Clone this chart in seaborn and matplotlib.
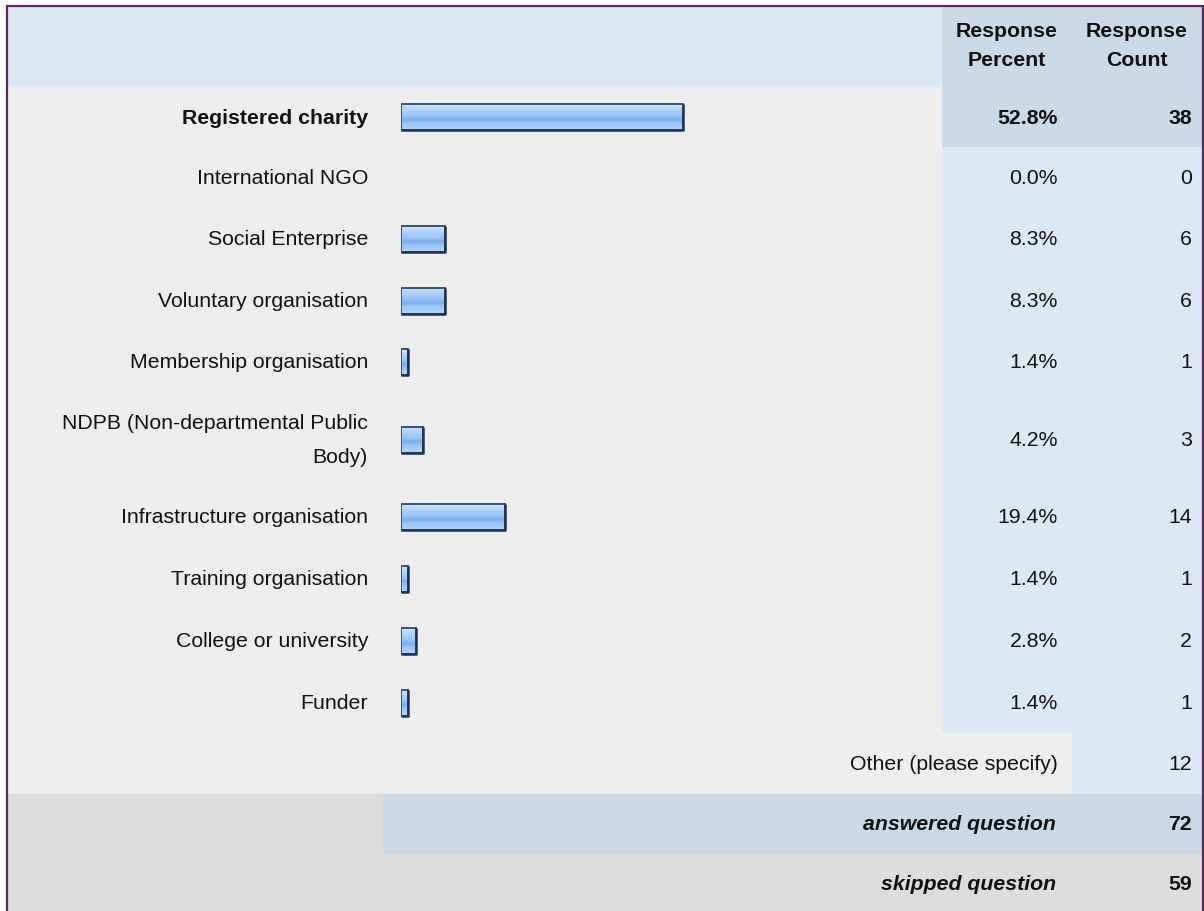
import numpy as np
import pandas as pd
import seaborn as sns
import matplotlib.pyplot as plt
from matplotlib.patches import Rectangle
from matplotlib.colors import to_rgb

categories = ["Registered charity", "International NGO", "Social Enterprise",
              "Voluntary organisation", "Membership organisation",
              "NDPB (Non-departmental Public\nBody)", "Infrastructure organisation",
              "Training organisation", "College or university", "Funder"]
percents = [52.8, 0.0, 8.3, 8.3, 1.4, 4.2, 19.4, 1.4, 2.8, 1.4]
counts = [38, 0, 6, 6, 1, 3, 14, 1, 2, 1]
other_label = "Other (please specify)"
other_count = 12
answered = 72
skipped = 59

# layout in pixels
W, H = 1204, 912
L, R = 8, 1202
C1, C2 = 942, 1072
header_top, header_h = 8, 80
row_h = [60, 61, 62, 61, 62, 93, 62, 62, 62, 61]
foot_h = 61

LIGHT = "#dde8f5"
DARK = "#cbd8e6"
GREY = "#ededed"
GREY2 = "#dcdcdc"
BORDER = "#5c2a52"

sns.set_theme(style="white")
plt.rcParams["font.family"] = ["Liberation Sans", "DejaVu Sans"]
plt.rcParams["text.color"] = "#111111"
FS = 15.3

fig = plt.figure(figsize=(W / 100, H / 100), dpi=100)
bg = fig.add_axes([0, 0, 1, 1])
bg.set_xlim(0, W)
bg.set_ylim(H, 0)
bg.axis("off")

def cell(x0, x1, y0, y1, color):
    bg.add_patch(Rectangle((x0, y0), x1 - x0, y1 - y0, facecolor=color, edgecolor="none", zorder=0))

# header
y = header_top
cell(L, C1, y, y + header_h, LIGHT)
cell(C1, R, y, y + header_h, DARK)
bg.text((C1 + C2) / 2, y + 23.5, "Response", ha="center", va="center", fontsize=FS, fontweight="bold")
bg.text((C1 + C2) / 2, y + 52, "Percent", ha="center", va="center", fontsize=FS, fontweight="bold")
bg.text((C2 + R) / 2, y + 23.5, "Response", ha="center", va="center", fontsize=FS, fontweight="bold")
bg.text((C2 + R) / 2, y + 52, "Count", ha="center", va="center", fontsize=FS, fontweight="bold")
y += header_h

centers = []
for i, (cat, p, c, h) in enumerate(zip(categories, percents, counts, row_h)):
    cell(L, C1, y, y + h, GREY)
    cell(C1, R, y, y + h, DARK if i == 0 else LIGHT)
    yc = y + h / 2
    centers.append(yc)
    wt = "bold" if i == 0 else "normal"
    bg.text(368, yc, cat, ha="right", va="center", fontsize=FS, fontweight=wt,
            multialignment="right", linespacing=1.95)
    bg.text(1058, yc, f"{p:.1f}%", ha="right", va="center", fontsize=FS, fontweight=wt)
    bg.text(1192, yc, str(c), ha="right", va="center", fontsize=FS, fontweight=wt)
    y += h

# other
cell(L, C2, y, y + foot_h, GREY)
cell(C2, R, y, y + foot_h, LIGHT)
bg.text(1058, y + foot_h / 2, other_label, ha="right", va="center", fontsize=FS)
bg.text(1192, y + foot_h / 2, str(other_count), ha="right", va="center", fontsize=FS)
y += foot_h

# answered / skipped
cell(L, 383, y, y + 60, GREY2)
cell(383, R, y, y + 60, DARK)
bg.text(1056, y + 30, "answered question", ha="right", va="center", fontsize=FS,
        fontweight="bold", fontstyle="italic")
bg.text(1192, y + 30, str(answered), ha="right", va="center", fontsize=FS, fontweight="bold")
y += 60
cell(L, R, y, H + 5, GREY2)
bg.text(1056, y + 30, "skipped question", ha="right", va="center", fontsize=FS,
        fontweight="bold", fontstyle="italic")
bg.text(1192, y + 30, str(skipped), ha="right", va="center", fontsize=FS, fontweight="bold")

# frame
bg.plot([L - 1, L - 1], [H + 5, header_top - 1], color=BORDER, lw=1.6, zorder=5)
bg.plot([L - 1, R + 0.5], [header_top - 1, header_top - 1], color=BORDER, lw=1.6, zorder=5)
bg.plot([R + 0.5, R + 0.5], [header_top - 1, H + 5], color=BORDER, lw=1.6, zorder=5)

# bars
bx = fig.add_axes([401 / W, 0, 534 / W, 1])
df = pd.DataFrame({"pct": percents, "y": centers})
diffs = np.diff(sorted(centers))
sns.barplot(data=df, x="pct", y="y", orient="h", native_scale=True,
            width=26 / diffs.min(), ax=bx, color="#9cc6f5",
            edgecolor="#3a5272", linewidth=1.4)
bx.set_xlim(0, 100)
bx.set_ylim(H, 0)
bx.axis("off")
bx.patch.set_alpha(0)

stops = [(0.0, "#d6e9fd"), (0.12, "#bcdaf9"), (0.45, "#99c4f4"), (0.6, "#79aeef"),
         (0.75, "#9cc6f5"), (1.0, "#b4d4f8")]
pos = np.linspace(0, 1, 64)
grad = np.stack([np.interp(pos, [s[0] for s in stops], [to_rgb(s[1])[k] for s in stops])
                 for k in range(3)], axis=-1)[:, None, :]
for patch in list(bx.patches):
    x0, y0 = patch.get_x(), patch.get_y()
    w, h = patch.get_width(), patch.get_height()
    if w <= 0:
        patch.set_visible(False)
        continue
    patch.set_facecolor("none")
    patch.set_zorder(3)
    im = bx.imshow(grad, extent=(x0, x0 + w, y0 + h, y0), aspect="auto",
                   origin="upper", zorder=2)
    im.set_clip_path(patch)
    # darker shadow on the bottom and right edges
    bx.plot([x0, x0 + w, x0 + w], [y0 + h, y0 + h, y0], color="#1d3250",
            lw=1.8, zorder=4, solid_capstyle="butt")
bx.set_xlim(0, 100)
bx.set_ylim(H, 0)

fig.savefig("out.png", dpi=100)
